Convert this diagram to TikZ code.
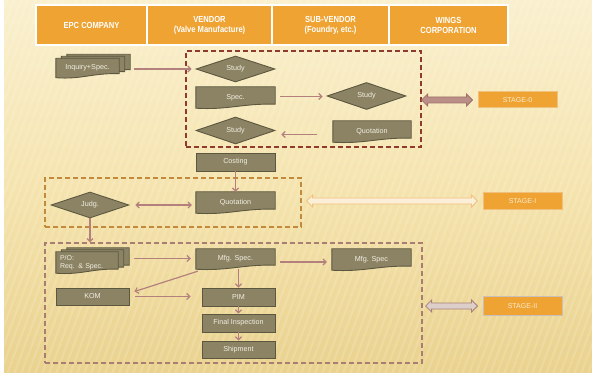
\documentclass[tikz,border=0pt]{standalone}
\usepackage{fontspec}
\setmainfont{Liberation Sans}
\newfontfamily\hdrfont[FakeStretch=0.86]{Liberation Sans}
\usetikzlibrary{shapes.geometric,arrows.meta,calc}
\pgfdeclarelayer{back}
\pgfdeclarelayer{bg}
\pgfsetlayers{back,bg,main}

\definecolor{bgcream}{HTML}{EAD28E}
\definecolor{bgmid}{HTML}{F5E4AE}
\definecolor{bgtop}{HTML}{FAF0CE}
\definecolor{hdrorange}{HTML}{EEA332}
\definecolor{nodefill}{HTML}{8C8365}
\definecolor{nodeline}{HTML}{5C573F}
\definecolor{nodetext}{HTML}{F2EFE2}
\definecolor{conncol}{HTML}{B3807E}
\definecolor{szero}{HTML}{8E3B2E}
\definecolor{sone}{HTML}{C28A3C}
\definecolor{stwo}{HTML}{A87E72}
\definecolor{stagetext}{HTML}{FAEBD0}
\definecolor{azerofill}{HTML}{B98F88}
\definecolor{azeroline}{HTML}{A0706A}
\definecolor{aonefill}{HTML}{FCEFD8}
\definecolor{aoneline}{HTML}{F1C07C}
\definecolor{atwofill}{HTML}{DCCFCA}
\definecolor{atwoline}{HTML}{A88078}

\tikzset{
  boxnode/.style={rectangle, draw=nodeline, fill=nodefill, line width=0.9pt, text=nodetext, font=\fontsize{7.2}{8.2}\selectfont, inner sep=1pt},
  docnodestyle/.style={rectangle, draw=none, fill=none, text=nodetext, font=\fontsize{7.2}{8.2}\selectfont, inner sep=1pt},
  docfill/.style={draw=nodeline, fill=nodefill, line width=0.9pt},
  dianode/.style={diamond, shape aspect=3, draw=nodeline, fill=nodefill, line width=0.9pt, inner sep=0pt, text=nodetext, font=\fontsize{7.2}{8.2}\selectfont},
  hdrcell/.style={rectangle, draw=white, line width=1.3pt, fill=hdrorange, text=white, font=\hdrfont\bfseries\fontsize{8.8}{10}\selectfont, align=center, inner sep=0pt},
  stagelab/.style={rectangle, fill=hdrorange, line width=1pt, text=stagetext, font=\fontsize{7}{8}\selectfont, inner sep=0pt, minimum width=79pt},
  stagebox/.style={rectangle, line width=1.2pt, dash pattern=on 5pt off 3pt, inner sep=0pt, fill=none},
  conn/.style={draw=conncol, line width=1.2pt, -{Straight Barb[length=3pt,width=6pt]}},
  connboth/.style={draw=conncol, line width=1.2pt, {Straight Barb[length=3pt,width=6pt]}-{Straight Barb[length=3pt,width=6pt]}},
}

% document sheet outline with wavy bottom, shifted by (#2,#3)
\newcommand\docsheet[4]{%
  \path[#4] ([xshift=#2,yshift=#3]#1.north west) -- ([xshift=#2,yshift=#3]#1.north east)
    -- ([xshift=#2,yshift=#3+4pt]#1.south east)
    .. controls ($(#1.south west)!0.6!(#1.south east)+(#2,#3+5pt)$) and ($(#1.south west)!0.4!(#1.south east)+(#2,#3-2pt)$) ..
    ([xshift=#2,yshift=#3]#1.south west) -- cycle;}

% name, position, width, height, text
\newcommand\docnode[5]{%
  \node[docnodestyle, minimum width=#3pt, minimum height=#4pt] (#1) at (#2) {#5};
  \begin{pgfonlayer}{bg}\docsheet{#1}{0pt}{0pt}{docfill}\end{pgfonlayer}}

\newcommand\stacknode[6]{%
  \node[docnodestyle, minimum width=#3pt, minimum height=#4pt, #6] (#1) at (#2) {#5};
  \begin{pgfonlayer}{bg}
    \docsheet{#1}{11pt}{4pt}{docfill}
    \docsheet{#1}{5.5pt}{2pt}{docfill}
    \docsheet{#1}{0pt}{0pt}{docfill}
  \end{pgfonlayer}}

% block double arrow from #1 to #2
\newcommand\blockarrow[3]{%
  \path[#3] let \p1=(#1), \p2=(#2) in
    (\x1,\y1) -- (\x1+6pt,\y1+6pt) -- (\x1+6pt,\y1+3pt) -- (\x2-6pt,\y1+3pt) -- (\x2-6pt,\y1+6pt)
    -- (\x2,\y1) -- (\x2-6pt,\y1-6pt) -- (\x2-6pt,\y1-3pt) -- (\x1+6pt,\y1-3pt) -- (\x1+6pt,\y1-6pt) -- cycle;}

\begin{document}
\begin{tikzpicture}[x=1pt,y=-1pt]
\useasboundingbox (0,0) rectangle (592,374);

% background
\begin{pgfonlayer}{back}
  \fill[white] (0,0) rectangle (592,374);
  \shade[top color=bgtop, bottom color=bgcream, middle color=bgmid] (4,0) rectangle (592,372);
  \begin{scope}
    \clip (4,0) rectangle (592,372);
    \foreach \i in {0,...,105}
      \draw[white, opacity=0.15, line width=2.2pt] ({\i*7-140},374) -- ({\i*7},0);
  \end{scope}
\end{pgfonlayer}

% header
\node[hdrcell, minimum width=111pt, minimum height=40pt] (h1) at (91.5,25) {EPC COMPANY};
\node[hdrcell, minimum width=125pt, minimum height=40pt] (h2) at (209.5,25) {VENDOR\\(Valve Manufacture)};
\node[hdrcell, minimum width=117pt, minimum height=40pt] (h3) at (330.5,25) {SUB-VENDOR\\(Foundry, etc.)};
\node[hdrcell, minimum width=119pt, minimum height=40pt] (h4) at (448.5,25) {WINGS\\CORPORATION};

% stage boxes
\node[stagebox, draw=szero, minimum width=235pt, minimum height=96pt] (s0) at (303.5,99) {};
\node[stagebox, draw=sone, minimum width=256pt, minimum height=49pt] (s1) at (173,202.5) {};
\node[stagebox, draw=stwo, minimum width=377pt, minimum height=120pt] (s2) at (233.5,303) {};

% stage 0
\stacknode{inq}{87.5,68}{63}{19}{Inquiry+Spec.}{}
\node[dianode, minimum width=79pt, minimum height=26pt] (study1) at (235.5,69) {Study};
\docnode{spec}{235.5,97.5}{79}{21}{Spec.}
\node[dianode, minimum width=79pt, minimum height=27pt] (study2) at (366.5,96) {Study};
\node[dianode, minimum width=79pt, minimum height=27pt] (study3) at (235.5,130.5) {Study};
\docnode{quot0}{372,131.5}{78}{21}{Quotation}

% stage I
\node[boxnode, minimum width=79pt, minimum height=18pt] (costing) at (235.5,162) {Costing};
\docnode{quot1}{235.5,202.5}{79}{21}{Quotation}
\node[dianode, minimum width=78pt, minimum height=26pt] (judg) at (90,205) {Judg.};

% stage II
\stacknode{po}{87,262.5}{62}{21}{P/O:\\Req. \& Spec.}{text width=54pt, align=left, font=\fontsize{7}{8.2}\selectfont}
\docnode{mfga}{235.5,259}{79}{20}{Mfg. Spec.}
\docnode{mfgb}{371.5,259.5}{79}{21}{Mfg. Spec}
\node[boxnode, minimum width=73pt, minimum height=17pt] (kom) at (92.5,296.5) {KOM};
\node[boxnode, minimum width=73pt, minimum height=18pt] (pim) at (238.5,297) {PIM};
\node[boxnode, minimum width=73pt, minimum height=18pt] (fin) at (238.5,323) {Final Inspection};
\node[boxnode, minimum width=73pt, minimum height=17pt] (ship) at (238.5,349.5) {Shipment};

% stage labels
\node[stagelab, draw=aoneline, minimum height=16pt] (stage0) at (517.5,100) {STAGE-0};
\node[stagelab, draw=aoneline, minimum height=17pt] (stage1) at (522.5,201) {STAGE-I};
\node[stagelab, draw=atwofill!80!gray, minimum height=18pt] (stage2) at (522.5,306) {STAGE-II};

% connectors
\draw[conn] ([xshift=15pt]inq.east |- study1.west) -- ([xshift=-4pt]study1.west);
\draw[conn] ([xshift=5pt,yshift=1pt]spec.east) -- ([xshift=-4pt,yshift=1pt]spec.east -| study2.west);
\draw[conn] ([xshift=-16pt,yshift=-3pt]quot0.west) -- ([xshift=6pt,yshift=-3pt]quot0.west -| study3.east);
\draw[conn] (costing.south) -- (costing.south |- quot1.north);
\draw[connboth] ([xshift=6pt]judg.east) -- ([xshift=-4pt]judg.east -| quot1.west);
\draw[conn] (judg.south) -- (judg.south |- s2.north);
\draw[conn] ([xshift=16pt,yshift=4pt]po.east) -- ([xshift=-5pt,yshift=4pt]po.east -| mfga.west);
\draw[conn] ([xshift=5pt,yshift=-3pt]mfga.east) -- ([xshift=-5pt,yshift=-3pt]mfga.east -| mfgb.west);
\draw[conn] ([xshift=2pt,yshift=-2pt]mfga.south west) -- ([xshift=5pt,yshift=-4pt]kom.north east);
\draw[conn] ([xshift=6pt]kom.east) -- ([xshift=-11pt]kom.east -| pim.west);
\draw[conn] (pim.north |- mfga.south) -- (pim.north);
\draw[conn] (pim.south) -- (fin.north);
\draw[conn] (fin.south) -- (ship.north);

% stage arrows
\blockarrow{s0.east |- stage0.west}{[xshift=-5pt]stage0.west}{fill=azerofill, draw=azeroline, line width=0.8pt}
\blockarrow{[xshift=5pt]s1.east |- stage1.west}{[xshift=-5pt]stage1.west}{fill=aonefill, draw=aoneline, line width=0.8pt}
\blockarrow{[xshift=3pt]s2.east |- stage2.west}{[xshift=-5pt]stage2.west}{fill=atwofill, draw=atwoline, line width=0.8pt}
\end{tikzpicture}
\end{document}
